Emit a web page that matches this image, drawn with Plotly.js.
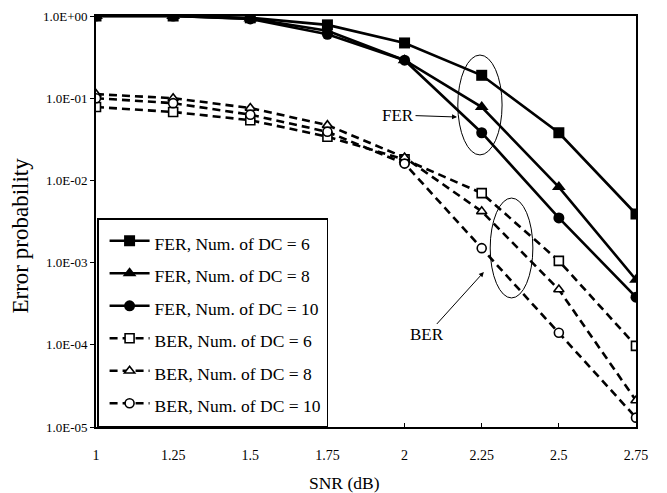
<!DOCTYPE html>
<html>
<head>
<meta charset="utf-8">
<script src="https://cdn.plot.ly/plotly-3.0.1.min.js"></script>
<style>html,body{margin:0;padding:0;background:#fff;}#chart{width:667px;height:493px;}</style>
</head>
<body>
<div id="chart"></div>
<script>
const snr = [1, 1.25, 1.5, 1.75, 2, 2.25, 2.5, 2.75];
const snrLabels = ['1', '1.25', '1.5', '1.75', '2', '2.25', '2.5', '2.75'];
const fer6  = [1.0, 1.0, 0.95, 0.78, 0.47, 0.19, 0.038, 0.0039];
const fer8  = [1.0, 1.0, 0.93, 0.66, 0.29, 0.078, 0.0083, 0.00062];
const fer10 = [1.0, 1.0, 0.92, 0.60, 0.29, 0.038, 0.0035, 0.00038];
const ber6  = [0.078, 0.068, 0.054, 0.034, 0.018, 0.0070, 0.00105, 0.000097];
const ber8  = [0.112, 0.10, 0.076, 0.047, 0.019, 0.0042, 0.00047, 0.000021];
const ber10 = [0.10, 0.087, 0.063, 0.039, 0.016, 0.0015, 0.00014, 0.000013];
const seriesNames = ['FER, Num. of DC = 6', 'FER, Num. of DC = 8', 'FER, Num. of DC = 10',
                     'BER, Num. of DC = 6', 'BER, Num. of DC = 8', 'BER, Num. of DC = 10'];
const yTickVals = [1, 0.1, 0.01, 0.001, 0.0001, 0.00001];
const yTickText = ['1.0E+00', '1.0E-01', '1.0E-02', '1.0E-03', '1.0E-04', '1.0E-05'];
const xTitle = 'SNR (dB)';
const yTitle = 'Error probability';

const FONT = 'Liberation Serif, Times New Roman, serif';
const lbl = s => '<span style="font-size:17.5px">' + s + '</span>';

function fer(y, name, sym, size) {
  return {x: snr, y: y, name: lbl(name), type: 'scatter', mode: 'lines+markers',
    line: {color: '#000', width: 2.6},
    marker: {symbol: sym, size: size, color: '#000'}};
}
function ber(y, name, sym, size) {
  return {x: snr, y: y, name: lbl(name), type: 'scatter', mode: 'lines+markers',
    line: {color: '#000', width: 2.6, dash: '8px,5px'},
    marker: {symbol: sym, size: size, color: '#fff', line: {color: '#000', width: 1.6}}};
}

const data = [
  fer(fer6, seriesNames[0], 'square', 11),
  fer(fer8, seriesNames[1], 'triangle-up', 12),
  fer(fer10, seriesNames[2], 'circle', 11),
  ber(ber6, seriesNames[3], 'square', 9),
  ber(ber8, seriesNames[4], 'triangle-up', 9),
  ber(ber10, seriesNames[5], 'circle', 9)
];

const layout = {
  width: 667, height: 493,
  margin: {l: 96, r: 31, t: 16, b: 66},
  paper_bgcolor: '#fff', plot_bgcolor: '#fff',
  font: {family: FONT, color: '#000', size: 13},
  showlegend: true,
  legend: {x: 0.002, y: 0, xanchor: 'left', yanchor: 'bottom',
    bgcolor: '#fff', bordercolor: '#000', borderwidth: 1.5,
    itemwidth: 40, indentation: 6,
    font: {family: FONT, size: 22.7, color: '#000'}, tracegroupgap: 0},
  xaxis: {type: 'linear', range: [1, 2.75], tickvals: snr, ticktext: snrLabels,
    showgrid: false, zeroline: false, showline: true, mirror: true, linecolor: '#000', linewidth: 1.8,
    ticks: 'inside', ticklen: 4, tickcolor: '#000', ticklabelstandoff: 14,
    tickfont: {family: FONT, size: 14}},
  yaxis: {type: 'log', range: [-5, 0], tickvals: yTickVals, ticktext: yTickText,
    showgrid: false, zeroline: false, showline: true, mirror: true, linecolor: '#000', linewidth: 1.8,
    ticks: 'outside', ticklen: 4, tickcolor: '#000',
    tickfont: {family: FONT, size: 13}},
  shapes: [
    {type: 'circle', xref: 'paper', yref: 'paper', x0: 0.670, x1: 0.752, y0: 0.662, y1: 0.905,
      line: {color: '#000', width: 1}},
    {type: 'circle', xref: 'paper', yref: 'paper', x0: 0.730, x1: 0.809, y0: 0.314, y1: 0.557,
      line: {color: '#000', width: 1}}
  ],
  annotations: [
    {x: 2.170, y: -1.229, xref: 'x', yref: 'y', text: 'FER', showarrow: true,
      ax: -59, ay: -2, arrowhead: 2, arrowsize: 1, arrowwidth: 1, arrowcolor: '#000',
      font: {family: FONT, size: 17, color: '#000'}},
    {x: 2.257, y: -3.114, xref: 'x', yref: 'y', text: 'BER', showarrow: true,
      ax: -57, ay: 63, arrowhead: 2, arrowsize: 1, arrowwidth: 1, arrowcolor: '#000',
      font: {family: FONT, size: 17, color: '#000'}},
    {x: -0.1396, y: 0.465, xref: 'paper', yref: 'paper', text: yTitle, textangle: -90,
      showarrow: false, xanchor: 'center', yanchor: 'middle',
      font: {family: FONT, size: 23, color: '#000'}},
    {x: 0.4596, y: -0.136, xref: 'paper', yref: 'paper', text: xTitle,
      showarrow: false, xanchor: 'center', yanchor: 'middle',
      font: {family: FONT, size: 17.5, color: '#000'}}
  ]
};

Plotly.newPlot('chart', data, layout, {displayModeBar: false, staticPlot: true});
</script>
</body>
</html>
